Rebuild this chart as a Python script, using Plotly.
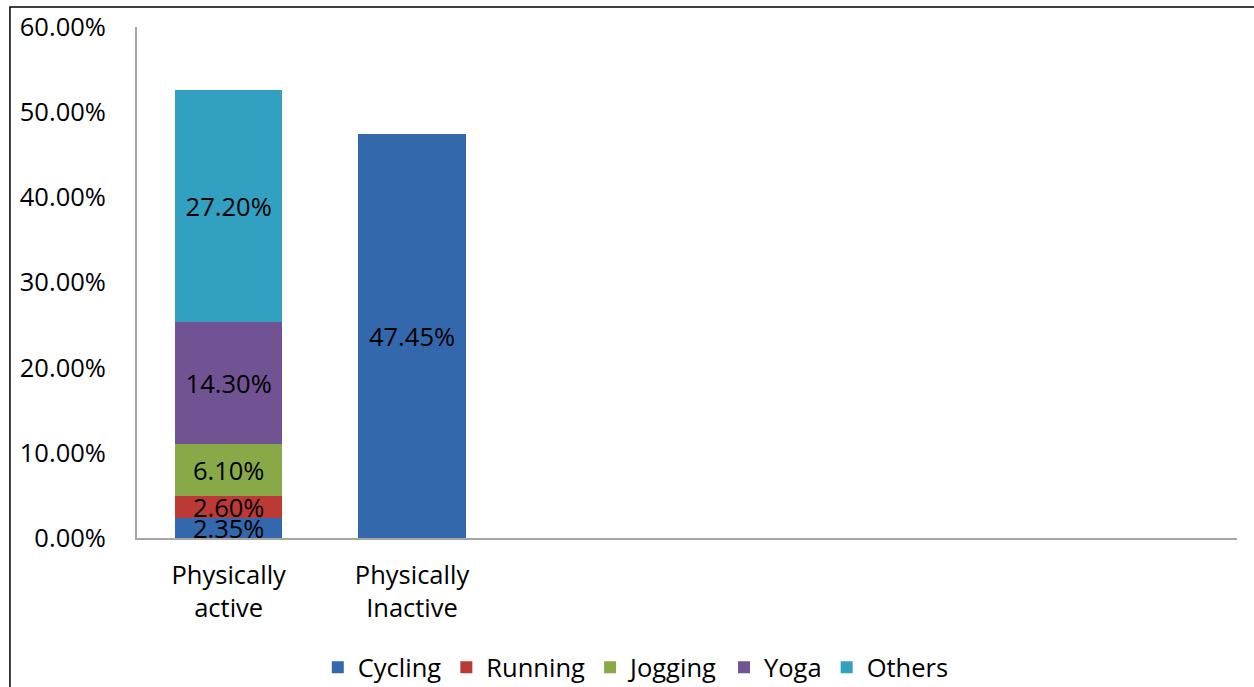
import plotly.graph_objects as go

categories = ["Physically<br>active", "Physically<br>Inactive"]
x_pos = [0, 1]
series_names = ["Cycling", "Running", "Jogging", "Yoga", "Others"]
cycling = [2.35, 47.45]
running = [2.60, None]
jogging = [6.10, None]
yoga = [14.30, None]
others = [27.20, None]
colors = ["#3468AD", "#BC3A35", "#89A948", "#715393", "#31A0C1"]
y_ticks = [0, 10, 20, 30, 40, 50, 60]

FONT = "Open Sans"
FS = 25.5
fig = go.Figure()
for name, vals, col in zip(series_names, [cycling, running, jogging, yoga, others], colors):
    fig.add_trace(go.Bar(
        x=x_pos, y=vals, name=name, marker=dict(color=col, line=dict(width=0)),
        width=0.585,
        text=[f"{v:.2f}%" if v is not None else "" for v in vals],
        textposition="inside", insidetextanchor="middle", textangle=0,
        constraintext="none",
        textfont=dict(family=FONT, size=FS, color="#000000"),
        hoverinfo="skip",
    ))

fig.update_layout(
    barmode="stack",
    width=1254, height=687,
    margin=dict(l=137, r=17, t=27, b=149, autoexpand=False),
    paper_bgcolor="white", plot_bgcolor="white",
    font=dict(family=FONT, size=FS, color="#000000"),
    showlegend=True,
    legend=dict(orientation="h", xref="container", yref="container",
                x=0.507, xanchor="center", y=0.028, yanchor="middle",
                font=dict(family=FONT, size=FS, color="#000000"),
                traceorder="normal"),
    xaxis=dict(range=[-0.5, 5.5], tickvals=x_pos, ticktext=categories,
               showline=True, linecolor="#A6A6A6", linewidth=2,
               showgrid=False, zeroline=False, ticks="", automargin=False,
               ticklabelstandoff=13,
               tickfont=dict(family=FONT, size=FS, color="#000000")),
    yaxis=dict(range=[0, 60], tickvals=y_ticks,
               ticktext=[f"{t:.2f}%" for t in y_ticks],
               showline=True, linecolor="#A6A6A6", linewidth=2,
               showgrid=False, zeroline=False, ticks="", automargin=False,
               ticklabelstandoff=24,
               tickfont=dict(family=FONT, size=FS, color="#000000")),
    shapes=[dict(type="rect", xref="paper", yref="paper",
                 x0=-0.1155, x1=1.2, y0=1.039, y1=-0.5,
                 line=dict(color="black", width=1.5), fillcolor="rgba(0,0,0,0)",
                 layer="below")],
)

fig.write_html("out.html")
